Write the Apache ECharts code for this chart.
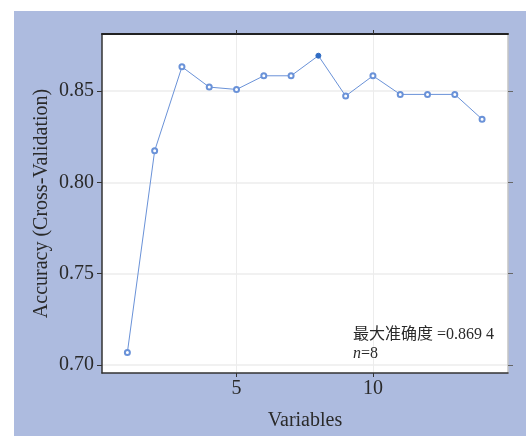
<!DOCTYPE html>
<html>
<head>
<meta charset="utf-8">
<script src="https://cdn.jsdelivr.net/npm/echarts@6/dist/echarts.min.js"></script>
<style>
html,body{margin:0;padding:0;background:#fff;}
#c{width:526px;height:436px;}
</style>
</head>
<body>
<div id="c"></div>
<script>
const variables = [1,2,3,4,5,6,7,8,9,10,11,12,13,14];
const accuracy = [0.7068,0.8173,0.8633,0.8522,0.8509,0.8584,0.8584,0.8694,0.8473,0.8584,0.8482,0.8482,0.8482,0.8346];
const xTicks = [5,10];
const yTicks = [0.70,0.75,0.80,0.85];
const bestIndex = 7;
const annotationLine1 = '最大准确度 =0.869 4';
const annotationN = 'n';
const annotationLine2 = '=8';

const serif = '"Liberation Serif","DejaVu Serif",serif';
const lineColor = '#6a92d8';

const seriesData = variables.map((v,i)=>{
  const item = {value:[v, accuracy[i]]};
  if (i === bestIndex) {
    item.symbol = 'circle';
    item.itemStyle = {color:'#2f6cc4', borderColor:'#2f6cc4'};
  }
  return item;
});

const chart = echarts.init(document.getElementById('c'), null, {renderer:'canvas'});
chart.setOption({
  animation:false,
  backgroundColor:'#ffffff',
  graphic:[
    {type:'rect', left:14, top:11, shape:{width:512, height:425}, style:{fill:'#adbbdf'}, z:-100, silent:true},
    {type:'text', left:353, top:327, z:100, style:{
      text:annotationLine1, font:'16px "Liberation Serif","Noto Sans CJK SC",serif', fill:'#2a2a2a'}},
    {type:'text', left:353, top:346, z:100, style:{
      text:'{i|'+annotationN+'}{r|'+annotationLine2+'}',
      rich:{
        i:{fontFamily:serif, fontStyle:'italic', fontSize:16, fill:'#2a2a2a'},
        r:{fontFamily:serif, fontSize:16, fill:'#2a2a2a'}
      }}}
  ],
  grid:{left:102, right:18, top:34, bottom:61, show:true, backgroundColor:'#ffffff', borderWidth:0, containLabel:false},
  xAxis:[
    {type:'value', position:'bottom', min:0.07, max:14.95,
     name:'Variables', nameLocation:'middle', nameGap:38, nameMoveOverlap:false,
     nameTextStyle:{fontFamily:serif, fontSize:20, color:'#2a2a2a'},
     axisLine:{show:true, onZero:false, lineStyle:{color:'#333', width:1.5}},
     axisTick:{show:true, length:4, customValues:xTicks, lineStyle:{color:'#333'}},
     axisLabel:{customValues:xTicks, fontFamily:serif, fontSize:20, color:'#2a2a2a', margin:6},
     splitLine:{show:true, lineStyle:{color:'#ececec', width:1}}},
    {type:'value', position:'top', min:0.07, max:14.95,
     axisLine:{show:true, onZero:false, lineStyle:{color:'#222', width:2}},
     axisTick:{show:true, length:4, customValues:xTicks, lineStyle:{color:'#333'}},
     axisLabel:{show:false},
     splitLine:{show:false}}
  ],
  yAxis:[
    {type:'value', position:'left', min:0.6955, max:0.8813,
     name:'Accuracy (Cross-Validation)', nameLocation:'middle', nameGap:50, nameRotate:90, nameMoveOverlap:false,
     nameTextStyle:{fontFamily:serif, fontSize:20, color:'#2a2a2a'},
     axisLine:{show:true, onZero:false, lineStyle:{color:'#333', width:1.5}},
     axisTick:{show:true, length:5, customValues:yTicks, lineStyle:{color:'#333'}},
     axisLabel:{customValues:yTicks, formatter:v=>v.toFixed(2), fontFamily:serif, fontSize:20, color:'#2a2a2a', margin:8},
     splitLine:{show:true, lineStyle:{color:'#ececec', width:1.5}}},
    {type:'value', position:'right', min:0.6955, max:0.8813,
     axisLine:{show:true, onZero:false, lineStyle:{color:'#c4c4c4', width:1.5}},
     axisTick:{show:true, length:5, customValues:yTicks, lineStyle:{color:'#666'}},
     axisLabel:{show:false},
     splitLine:{show:false}}
  ],
  series:[{
    type:'line', xAxisIndex:0, yAxisIndex:0,
    data:seriesData,
    symbol:'emptyCircle', symbolSize:5,
    lineStyle:{color:lineColor, width:1},
    itemStyle:{color:lineColor, borderColor:lineColor, borderWidth:1},
    z:10
  }]
});
</script>
</body>
</html>
